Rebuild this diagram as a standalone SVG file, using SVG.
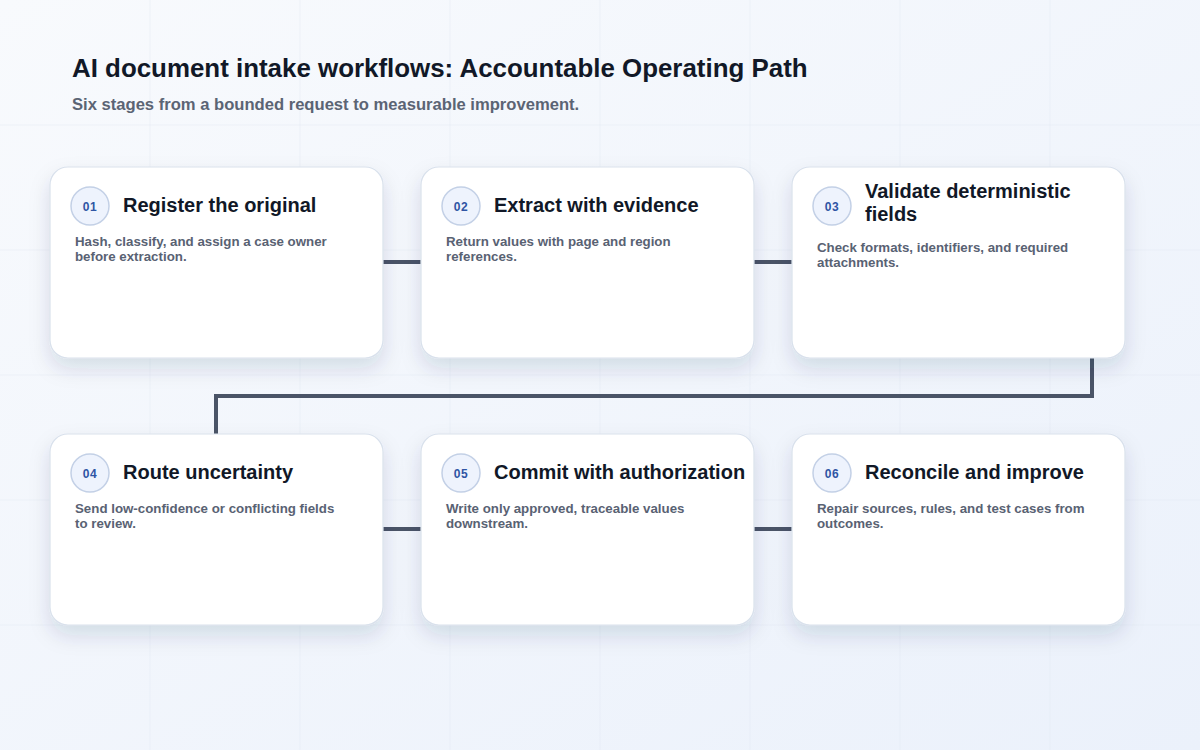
<svg xmlns="http://www.w3.org/2000/svg" width="1200" height="750" viewBox="0 0 1200 750">
<defs>
<linearGradient id="bg" x1="0" y1="0" x2="1" y2="1">
<stop offset="0" stop-color="#f8fafd"/>
<stop offset="1" stop-color="#ebf1fb"/>
</linearGradient>
<filter id="shadow" x="-20%" y="-20%" width="140%" height="150%">
<feDropShadow dx="0" dy="10" stdDeviation="10" flood-color="#1e2a50" flood-opacity="0.13"/>
</filter>
<style>
.grid line{stroke:#dfe6f0;stroke-width:1;opacity:0.4}
.card{fill:#ffffff;stroke:#d9e1ec;stroke-width:1.2;filter:url(#shadow)}
.badge{fill:#eef3fd;stroke:#c3d0e6;stroke-width:1.5}
.num{font-family:"Liberation Sans",Arial,sans-serif;font-weight:bold;font-size:12px;fill:#2f55a4;text-anchor:middle;letter-spacing:0.5px}
.ttl{font-family:"Liberation Sans",Arial,sans-serif;font-weight:bold;font-size:20px;fill:#111827}
.dsc{font-family:"Liberation Sans",Arial,sans-serif;font-weight:bold;font-size:13.3px;fill:#596273}
.conn{fill:none;stroke:#4a5467;stroke-width:4;stroke-linejoin:miter;stroke-linecap:butt}
.h1{font-family:"Liberation Sans",Arial,sans-serif;font-weight:bold;font-size:25.9px;fill:#111827}
.h2{font-family:"Liberation Sans",Arial,sans-serif;font-weight:bold;font-size:16.6px;fill:#5b6474}
</style>
</defs>
<rect width="1200" height="750" fill="url(#bg)"/>
<g class="grid">
<line x1="150" y1="0" x2="150" y2="750"/>
<line x1="300" y1="0" x2="300" y2="750"/>
<line x1="450" y1="0" x2="450" y2="750"/>
<line x1="600" y1="0" x2="600" y2="750"/>
<line x1="750" y1="0" x2="750" y2="750"/>
<line x1="900" y1="0" x2="900" y2="750"/>
<line x1="1050" y1="0" x2="1050" y2="750"/>
<line x1="0" y1="125" x2="1200" y2="125"/>
<line x1="0" y1="250" x2="1200" y2="250"/>
<line x1="0" y1="375" x2="1200" y2="375"/>
<line x1="0" y1="500" x2="1200" y2="500"/>
<line x1="0" y1="625" x2="1200" y2="625"/>
</g>
<g id="header">
<text class="h1" x="72" y="77">AI document intake workflows: Accountable Operating Path</text>
<text class="h2" x="72" y="110">Six stages from a bounded request to measurable improvement.</text>
</g>
<g id="connectors">
<path class="conn" d="M383 262 H421"/>
<path class="conn" d="M754 262 H792"/>
<path class="conn" d="M1092 358 V396 H216 V434"/>
<path class="conn" d="M383 529 H421"/>
<path class="conn" d="M754 529 H792"/>
</g>
<g id="node1">
<rect class="card" x="50" y="167" width="333" height="191" rx="18"/>
<circle class="badge" cx="90" cy="206" r="19"/>
<text class="num" x="90" y="210.5">01</text>
<text class="ttl" x="123" y="212">Register the original</text>
<text class="dsc" x="75" y="246">Hash, classify, and assign a case owner</text>
<text class="dsc" x="75" y="261">before extraction.</text>
</g>
<g id="node2">
<rect class="card" x="421" y="167" width="333" height="191" rx="18"/>
<circle class="badge" cx="461" cy="206" r="19"/>
<text class="num" x="461" y="210.5">02</text>
<text class="ttl" x="494" y="212">Extract with evidence</text>
<text class="dsc" x="446" y="246">Return values with page and region</text>
<text class="dsc" x="446" y="261">references.</text>
</g>
<g id="node3">
<rect class="card" x="792" y="167" width="333" height="191" rx="18"/>
<circle class="badge" cx="832" cy="206" r="19"/>
<text class="num" x="832" y="210.5">03</text>
<text class="ttl" x="865" y="198">Validate deterministic</text>
<text class="ttl" x="865" y="221">fields</text>
<text class="dsc" x="817" y="252">Check formats, identifiers, and required</text>
<text class="dsc" x="817" y="267">attachments.</text>
</g>
<g id="node4">
<rect class="card" x="50" y="434" width="333" height="191" rx="18"/>
<circle class="badge" cx="90" cy="473" r="19"/>
<text class="num" x="90" y="477.5">04</text>
<text class="ttl" x="123" y="479">Route uncertainty</text>
<text class="dsc" x="75" y="513">Send low-confidence or conflicting fields</text>
<text class="dsc" x="75" y="528">to review.</text>
</g>
<g id="node5">
<rect class="card" x="421" y="434" width="333" height="191" rx="18"/>
<circle class="badge" cx="461" cy="473" r="19"/>
<text class="num" x="461" y="477.5">05</text>
<text class="ttl" x="494" y="479">Commit with authorization</text>
<text class="dsc" x="446" y="513">Write only approved, traceable values</text>
<text class="dsc" x="446" y="528">downstream.</text>
</g>
<g id="node6">
<rect class="card" x="792" y="434" width="333" height="191" rx="18"/>
<circle class="badge" cx="832" cy="473" r="19"/>
<text class="num" x="832" y="477.5">06</text>
<text class="ttl" x="865" y="479">Reconcile and improve</text>
<text class="dsc" x="817" y="513">Repair sources, rules, and test cases from</text>
<text class="dsc" x="817" y="528">outcomes.</text>
</g>
</svg>
